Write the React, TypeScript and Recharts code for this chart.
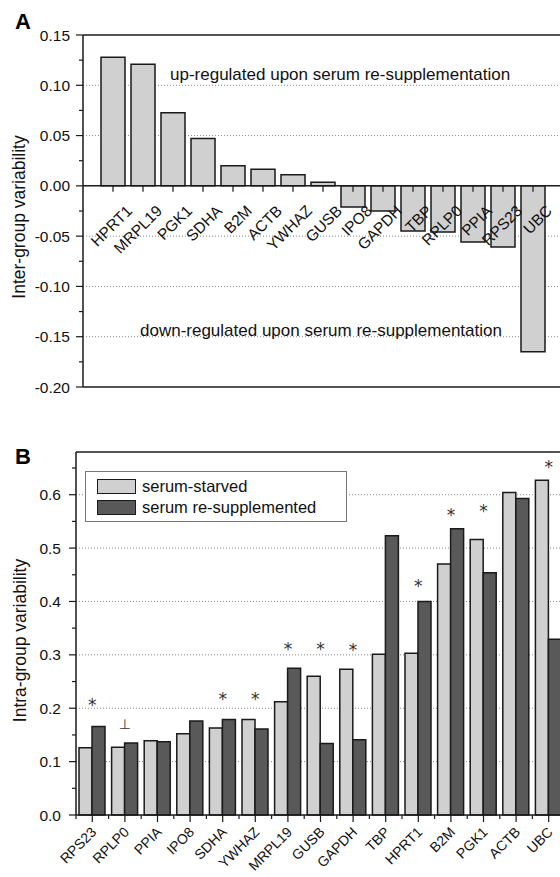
import React from 'react';
import {
  ComposedChart, Bar, Scatter, XAxis, YAxis, CartesianGrid, ReferenceLine, Legend,
} from 'recharts';

const FONT = '"Liberation Sans", Arial, Helvetica, sans-serif';
const INK = '#1a1a1a';

// Panel A — inter-group variability
const genesA = [
  'HPRT1', 'MRPL19', 'PGK1', 'SDHA', 'B2M', 'ACTB', 'YWHAZ', 'GUSB',
  'IPO8', 'GAPDH', 'TBP', 'RPLP0', 'PPIA', 'RPS23', 'UBC',
];
const interGroup = [
  0.128, 0.121, 0.0726, 0.047, 0.0199, 0.0166, 0.011, 0.0037,
  -0.021, -0.025, -0.0448, -0.0458, -0.0559, -0.0608, -0.165,
];
const ticksA = [
  -0.2, -0.175, -0.15, -0.125, -0.1, -0.075, -0.05, -0.025,
  0, 0.025, 0.05, 0.075, 0.1, 0.125, 0.15,
];
const majorA = [-0.2, -0.15, -0.1, -0.05, 0, 0.05, 0.1, 0.15];
const gridA = [-0.15, -0.1, -0.05, 0.05, 0.1];

// Panel B — intra-group variability
const genesB = [
  'RPS23', 'RPLP0', 'PPIA', 'IPO8', 'SDHA', 'YWHAZ', 'MRPL19', 'GUSB',
  'GAPDH', 'TBP', 'HPRT1', 'B2M', 'PGK1', 'ACTB', 'UBC',
];
const starved = [
  0.126, 0.127, 0.139, 0.152, 0.163, 0.179, 0.212, 0.26,
  0.273, 0.301, 0.303, 0.47, 0.516, 0.604, 0.627,
];
const resupplemented = [
  0.166, 0.135, 0.137, 0.176, 0.179, 0.161, 0.275, 0.134,
  0.141, 0.523, 0.4, 0.536, 0.454, 0.593, 0.329,
];
const markLevel = [
  0.212, 0.17, null, null, 0.223, 0.223, 0.316, 0.316,
  0.314, null, 0.435, 0.568, 0.576, null, 0.658,
];
const markText = ['*', '⊥', '', '', '*', '*', '*', '*', '*', '', '*', '*', '*', '', '*'];
const ticksB = [0, 0.05, 0.1, 0.15, 0.2, 0.25, 0.3, 0.35, 0.4, 0.45, 0.5, 0.55, 0.6, 0.65];
const majorB = [0, 0.1, 0.2, 0.3, 0.4, 0.5, 0.6];
const gridB = [0.1, 0.2, 0.3, 0.4, 0.5, 0.6];
const seriesNames = ['serum-starved', 'serum re-supplemented'];

const rowsA = genesA.map((gene, i) => ({ gene, value: interGroup[i], zero: 0 }));
const rowsB = genesB.map((gene, i) => ({
  gene,
  starved: starved[i],
  resupplemented: resupplemented[i],
  mark: markLevel[i],
  symbol: markText[i],
}));

const BAND_B = 489 / genesB.length;

function isMajor(list: number[], v: number) {
  return list.some((m) => Math.abs(m - v) < 1e-9);
}

function YTick({ x, y, payload, majors, digits, gap }: any) {
  const major = isMajor(majors, payload.value);
  return (
    <g>
      <line x1={x} x2={x - (major ? 7 : 4)} y1={y} y2={y} stroke={INK} strokeWidth={1.2} />
      {major && (
        <text
          x={x - gap} y={y} dy="0.36em" textAnchor="end"
          fontSize={15.5} fontFamily={FONT} fill="#111"
        >
          {payload.value.toFixed(digits)}
        </text>
      )}
    </g>
  );
}

function AxisTitle({ viewBox, value, cx, shift }: any) {
  const { x, y, height } = viewBox;
  return (
    <text
      transform={`translate(${x + cx},${y + height / 2 + shift}) rotate(-90)`}
      textAnchor="middle" dominantBaseline="central"
      fontSize={17.5} fontFamily={FONT} fill="#111"
    >
      {value}
    </text>
  );
}

// gene names of panel A hang from the zero line
function ZeroLabel(props: any) {
  const { cx, cy, payload } = props;
  if (cx == null || cy == null) return <g />;
  return (
    <g>
      <line x1={cx} x2={cx} y1={cy} y2={cy + 6} stroke={INK} strokeWidth={1.2} />
      <text
        transform={`translate(${cx + 20},${cy + 26}) rotate(-45)`}
        textAnchor="end" fontSize={15.5} fontFamily={FONT} fill="#111"
      >
        {payload.gene}
      </text>
    </g>
  );
}

function XTickB({ x, y, payload }: any) {
  return (
    <g>
      <line x1={x} x2={x} y1={y} y2={y + 7} stroke={INK} strokeWidth={1.2} />
      <line x1={x - BAND_B / 2} x2={x - BAND_B / 2} y1={y} y2={y + 4} stroke={INK} strokeWidth={1.2} />
      <text
        transform={`translate(${x + 5},${y + 18}) rotate(-45)`}
        textAnchor="end" fontSize={14} fontFamily={FONT} fill="#111"
      >
        {payload.value}
      </text>
    </g>
  );
}

function Mark(props: any) {
  const { cx, cy, payload } = props;
  if (!payload?.symbol || cx == null || cy == null) return <g />;
  const perp = payload.symbol === '⊥';
  return (
    <text
      x={cx} y={cy + (perp ? 5 : 9)} textAnchor="middle"
      fontSize={perp ? 14 : 17}
      fontFamily='"DejaVu Sans", sans-serif'
      fill="#333"
    >
      {payload.symbol}
    </text>
  );
}

function LegendBox({ payload }: any) {
  const items = (payload || [])
    .filter((p: any) => seriesNames.includes(p.value))
    .sort((a: any, b: any) => seriesNames.indexOf(a.value) - seriesNames.indexOf(b.value));
  return (
    <div
      style={{
        border: '1px solid #777', background: '#fff', width: 239,
        padding: '4px 10px 3px 11px', fontFamily: FONT, fontSize: 16.5, color: '#111',
      }}
    >
      {items.map((p: any) => (
        <div key={p.value} style={{ display: 'flex', alignItems: 'center', height: 21 }}>
          <span
            style={{
              width: 37, height: 13, background: p.color,
              border: `1.5px solid ${INK}`, marginRight: 6, display: 'inline-block',
            }}
          />
          {p.value}
        </div>
      ))}
    </div>
  );
}

function PanelLetter({ letter, top }: { letter: string; top: number }) {
  return (
    <div
      style={{
        position: 'absolute', left: 15, top, fontFamily: FONT, fontWeight: 700,
        fontSize: 22, lineHeight: '22px', color: '#000',
      }}
    >
      {letter}
    </div>
  );
}

export default function App() {
  return (
    <div
      style={{
        position: 'fixed', left: 0, top: 0, width: 560, height: 877,
        overflow: 'hidden', background: '#fff',
      }}
    >
      <PanelLetter letter="A" top={11} />
      <div style={{ position: 'absolute', left: 0, top: 0 }}>
        <ComposedChart
          width={600} height={400} data={rowsA}
          margin={{ top: 35, right: 37, bottom: 13, left: 0 }}
        >
          <CartesianGrid
            vertical={false} horizontalValues={gridA}
            stroke="#888" strokeDasharray="1 2"
          />
          <XAxis
            dataKey="gene" type="category" hide
            padding={{ left: 15, right: 15 }}
          />
          <YAxis
            type="number" width={83} domain={[-0.2, 0.15]} ticks={ticksA}
            interval={0} tickSize={0} tickMargin={0} tickLine={false}
            axisLine={{ stroke: INK, strokeWidth: 1.5 }}
            tick={<YTick majors={majorA} digits={2} gap={13} />}
            label={<AxisTitle value="Inter-group variability" cx={19} shift={6} />}
          />
          <ReferenceLine y={0.15} stroke={INK} strokeWidth={1.5} />
          <ReferenceLine y={-0.2} stroke={INK} strokeWidth={1.5} />
          <ReferenceLine
            y={0.1113} stroke="none"
            label={{
              value: 'up-regulated upon serum re-supplementation', position: 'insideLeft',
              offset: 87, fontSize: 17, fontFamily: FONT, fill: '#111',
            }}
          />
          <ReferenceLine
            y={-0.143} stroke="none"
            label={{
              value: 'down-regulated upon serum re-supplementation', position: 'insideLeft',
              offset: 57, fontSize: 17, fontFamily: FONT, fill: '#111',
            }}
          />
          <Bar
            dataKey="value" barSize={24} fill="#d0d0d0"
            stroke={INK} strokeWidth={1.5} isAnimationActive={false}
          />
          <ReferenceLine y={0} stroke={INK} strokeWidth={1.5} />
          <Scatter
            dataKey="zero" legendType="none" shape={<ZeroLabel />}
            isAnimationActive={false}
          />
        </ComposedChart>
      </div>

      <PanelLetter letter="B" top={446} />
      <div style={{ position: 'absolute', left: 0, top: 420 }}>
        <ComposedChart
          width={600} height={455} data={rowsB} barGap={0}
          margin={{ top: 32, right: 35, bottom: 0, left: 0 }}
        >
          <CartesianGrid
            vertical={false} horizontalValues={gridB}
            stroke="#888" strokeDasharray="1 2"
          />
          <XAxis
            dataKey="gene" type="category" height={60} interval={0}
            tickSize={0} tickMargin={0} tickLine={false}
            axisLine={{ stroke: INK, strokeWidth: 1.5 }}
            tick={<XTickB />}
          />
          <YAxis
            type="number" width={76} domain={[0, 0.68]} ticks={ticksB}
            interval={0} tickSize={0} tickMargin={0} tickLine={false}
            axisLine={{ stroke: INK, strokeWidth: 1.5 }}
            tick={<YTick majors={majorB} digits={1} gap={15} />}
            label={<AxisTitle value="Intra-group variability" cx={20} shift={7} />}
          />
          <ReferenceLine y={0.68} stroke={INK} strokeWidth={1.5} />
          <Legend
            layout="horizontal" verticalAlign="middle" align="center"
            content={<LegendBox />}
            wrapperStyle={{ left: 85, top: 51, width: 'auto' }}
          />
          <Bar
            dataKey="starved" name="serum-starved" barSize={13} fill="#d0d0d0"
            stroke={INK} strokeWidth={1.5} isAnimationActive={false}
          />
          <Bar
            dataKey="resupplemented" name="serum re-supplemented" barSize={13} fill="#595959"
            stroke={INK} strokeWidth={1.5} isAnimationActive={false}
          />
          <Scatter
            dataKey="mark" legendType="none" shape={<Mark />}
            isAnimationActive={false}
          />
        </ComposedChart>
      </div>
    </div>
  );
}
